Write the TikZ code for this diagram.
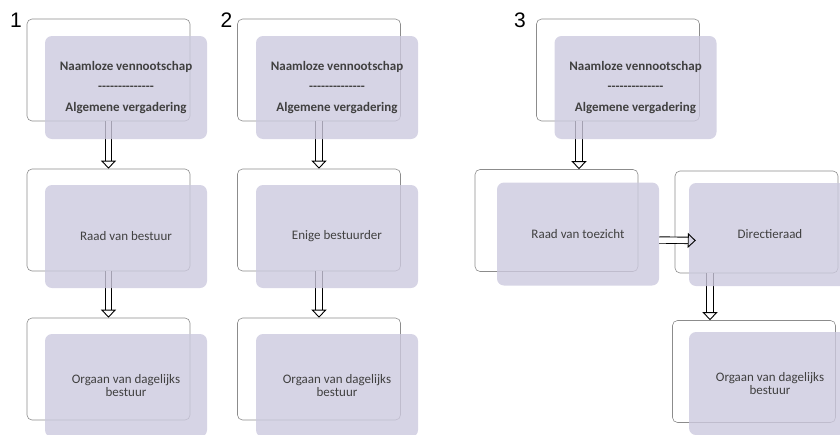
\documentclass[tikz,border=0pt]{standalone}
\usepackage{fontspec}
\setmainfont{Carlito}
\newfontfamily\numfont{Liberation Sans}
\usetikzlibrary{arrows.meta}

\definecolor{boxlilac}{RGB}{204,201,222}
\definecolor{boxtext}{RGB}{64,64,64}
\newcommand{\dashline}{-{}-{}-{}-{}-{}-{}-{}-{}-{}-{}-{}-{}-{}-}

\tikzset{
    backbox/.style={draw=black!45, line width=0.6pt, rounded corners=5pt,
        minimum width=163pt, minimum height=102pt},
    frontbox/.style={fill=boxlilac, fill opacity=0.8, text opacity=1,
        rounded corners=7pt, minimum width=162pt, minimum height=103pt,
        text=boxtext, align=center, font=\fontsize{13}{13.5}\selectfont},
    titlebox/.style={frontbox, font=\bfseries\fontsize{13}{20.5}\selectfont},
    flowarrow/.style={double, double distance=5.5pt, line width=0.9pt,
        -{Triangle[open, length=8pt, width=15pt]}},
    colnum/.style={font=\numfont\fontsize{21}{21}\selectfont}
}

\begin{document}
\begin{tikzpicture}[x=1pt, y=-1pt]
    \useasboundingbox (0,0) rectangle (840,434);
    \clip (0,0) rectangle (840,434);

    % Columns 1 and 2: NV -> board -> daily management
    \foreach \n/\bx/\fx/\mid in {1/108.5/126/Raad van bestuur, 2/319/337/Enige bestuurder} {
        \node[backbox] (nvback\n) at (\bx,70) {};
        \node[backbox] (midback\n) at (\bx,220) {};
        \node[backbox] (dbback\n) at (\bx,369) {};

        \draw[flowarrow] (nvback\n.south) -- (midback\n.north);
        \draw[flowarrow] (midback\n.south) -- (dbback\n.north);

        \node[titlebox] (nvfront\n) at (\fx,87.5)
            {Naamloze vennootschap\\\dashline\\Algemene vergadering};
        \node[frontbox] (midfront\n) at (\fx,236.5) {\mid};
        \node[frontbox] (dbfront\n) at (\fx,385.5) {Orgaan van dagelijks\\bestuur};
    }

    % Column 3: two-tier board
    \node[backbox] (nvback3) at (618,70) {};
    \node[backbox] (rvtback) at (556.5,220.5) {};
    \node[backbox] (drback) at (756.5,222) {};
    \node[backbox] (dbback3) at (754,371.5) {};

    \draw[flowarrow] ([xshift=-39pt]nvback3.south) -- ([xshift=-39pt]nvback3.south |- rvtback.north);
    \draw[flowarrow] ([xshift=-46.5pt]drback.south) -- ([xshift=-46.5pt]drback.south |- dbback3.north);

    \node[titlebox] (nvfront3) at (635.5,87.5)
        {Naamloze vennootschap\\\dashline\\Algemene vergadering};
    \node[frontbox] (rvtfront) at (578,234) {Raad van toezicht};
    \node[frontbox] (drfront) at (770,234.5) {Directieraad};
    \node[frontbox] (dbfront3) at (770,383.5) {Orgaan van dagelijks\\bestuur};

    % Supervision arrow (drawn on top)
    \draw[flowarrow] ([yshift=-6pt]rvtfront.east) -- ([xshift=7pt,yshift=-6pt]drfront.west);

    % Column numbers
    \node[colnum] (num1) at (16,20) {1};
    \node[colnum] (num2) at (226.5,20) {2};
    \node[colnum] (num3) at (520,20) {3};
\end{tikzpicture}
\end{document}
